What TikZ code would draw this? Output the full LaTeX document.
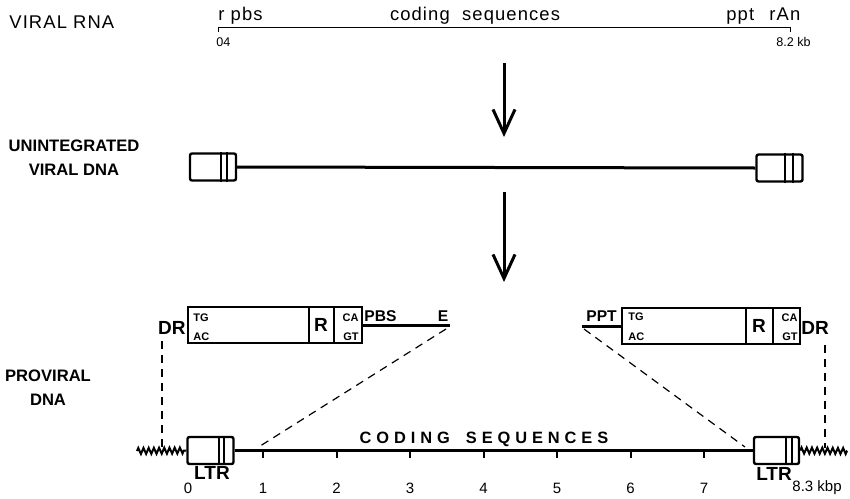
\documentclass[tikz,border=0pt]{standalone}
\usepackage{fontspec}
\setmainfont{Liberation Sans}
\newfontfamily\wideface[LetterSpace=30]{Liberation Sans}
\newfontfamily\airyface[LetterSpace=6]{Liberation Sans}
\usetikzlibrary{arrows.meta,calc,decorations.pathmorphing}
\tikzset{
  rv/.style={x=0.5pt, y=-0.5pt},
  r lab/.style={font=\fontsize{8.3}{12}\selectfont\bfseries, align=center, inner sep=0pt},
  r thin/.style={font=\fontsize{9.2}{10}\selectfont\airyface, inner sep=0pt},
  r small/.style={font=\fontsize{6.3}{7}\selectfont, inner sep=0pt},
  r num/.style={font=\fontsize{7.5}{8}\selectfont, inner sep=0pt},
  r tiny/.style={font=\fontsize{5.5}{6}\selectfont\bfseries, inner sep=0pt},
  r mid/.style={font=\fontsize{7.8}{9}\selectfont\bfseries, inner sep=0pt},
  r big lab/.style={font=\fontsize{9.5}{10}\selectfont\bfseries, inner sep=0pt},
  r ltr/.style={draw, line width=1.2pt, rounded corners=1pt, minimum width=23pt, minimum height=13.5pt, inner sep=0pt},
  r big/.style={draw, line width=1pt, minimum height=18pt, inner sep=0pt},
  r bar/.style={line width=1pt},
  r dna/.style={line width=1.5pt},
  r rna/.style={line width=0.5pt},
  r arr/.style={line width=1.5pt, -{Straight Barb[length=12pt, width=11pt]}},
  r dash/.style={line width=0.6pt, dash pattern=on 4pt off 3pt},
  r host/.style={line width=1pt, decorate, decoration={zigzag, segment length=2.6pt, amplitude=1.5pt}},
}
% two cuts across an LTR box, given as fractions of its width
\newcommand{\ltrcuts}[3]{%
  \draw[r bar] ($(#1.north west)!#2!(#1.north east)$) -- ($(#1.south west)!#2!(#1.south east)$);
  \draw[r bar] ($(#1.north west)!#3!(#1.north east)$) -- ($(#1.south west)!#3!(#1.south east)$);}

\begin{document}
\begin{tikzpicture}[rv]
\useasboundingbox (0,0) rectangle (850,498);
% ---- viral RNA ----
\node[r thin, anchor=base west] (rnalab) at (9,28) {VIRAL RNA};
\coordinate (rna0) at (218,27); \coordinate (rna1) at (790,27);
\draw[r rna] ($(rna0)+(0,5)$) -- (rna0) -- (rna1) -- ($(rna1)+(0,5)$);
\node[r thin, anchor=base west] (rpbs) at (218,20) {r pbs};
\node[r thin, anchor=base] (rcod) at (475,20) {coding\ \ sequences};
\node[r thin, anchor=base west] (rppt) at (726,20) {ppt};
\node[r thin, anchor=base west] (rran) at (769,20) {rAn};
\node[r small, anchor=base west] (rn0) at (216,46) {04};
\node[r small, anchor=base west] (rn1) at (776,46) {8.2 kb};
% ---- arrows ----
\coordinate (a1s) at (504,63);  \coordinate (a1e) at (504,137);
\coordinate (a2s) at (504,192); \coordinate (a2e) at (504,282);
\draw[r arr] (a1s) -- (a1e);
\draw[r arr] (a2s) -- (a2e);
% ---- unintegrated viral DNA ----
\node[r lab] (unlab) at (74,158) {UNINTEGRATED\\VIRAL DNA};
\node[r ltr] (ul) at (213,167) {};   \ltrcuts{ul}{0.67}{0.79}
\node[r ltr] (ur) at (779.5,168) {}; \ltrcuts{ur}{0.62}{0.77}
\draw[r dna] (ul.east) -- (ur.west);
% ---- proviral DNA, expanded LTRs ----
\node[r lab] (prolab) at (48,388) {PROVIRAL\\DNA};
\node[r big, minimum width=87pt] (lbig) at (275,325) {}; \ltrcuts{lbig}{0.695}{0.833}
\node[r tiny, anchor=west] (ltg) at (193,318) {TG};
\node[r tiny, anchor=west] (lac) at (193,337) {AC};
\node[r big lab] (lr) at (321,325) {R};
\node[r tiny, anchor=east] (lca) at (359,318) {CA};
\node[r tiny, anchor=east] (lgt) at (359,337) {GT};
\node[r big lab, anchor=east] (ldr) at (186,328) {DR};
\coordinate (pbsend) at (450,325);
\draw[r dna] (lbig.east) -- (pbsend);
\node[r mid, anchor=west] (lpbs) at (364,316) {PBS};
\node[r mid] (le) at (443,316) {E};
\node[r big, minimum width=89pt] (rbig) at (711,326) {}; \ltrcuts{rbig}{0.697}{0.843}
\node[r tiny, anchor=west] (rtg) at (628,317) {TG};
\node[r tiny, anchor=west] (rac) at (628,337) {AC};
\node[r big lab] (rr) at (759,326) {R};
\node[r tiny, anchor=east] (rca) at (798,318) {CA};
\node[r tiny, anchor=east] (rgt) at (798,337) {GT};
\node[r big lab, anchor=west] (rdr) at (801,328) {DR};
\coordinate (pptend) at (582,326);
\draw[r dna] (pptend) -- (rbig.west);
\node[r mid, anchor=west] (rppt2) at (586,316) {PPT};
% ---- proviral DNA, integrated ----
\node[r ltr] (bl) at (210.5,450.5) {};                   \ltrcuts{bl}{0.667}{0.78}
\node[r ltr, minimum width=22.5pt] (br) at (776.5,450.5) {}; \ltrcuts{br}{0.69}{0.82}
\draw[r dna] (bl.east) -- (br.west);
\coordinate (hl) at (137,451); \coordinate (hr) at (847,451);
\draw[r host] (hl) -- (bl.west); \draw[r host] (br.east) -- (hr);
\foreach \k in {1,...,7} {
  \draw[r bar] (189.5+73.5*\k,450) -- ++(0,8);
  \node[r num] (n\k) at (189.5+73.5*\k,488) {\k};
}
\node[r num] (n0) at (188,488) {0};
\node[r num, anchor=west] (nend) at (792,488) {8.3 kbp};
\node[r big lab] (bltr) at (212,473) {LTR};
\node[r big lab] (brltr) at (774,474) {LTR};
\node[r mid, font=\fontsize{8.2}{9}\selectfont\wideface\bfseries] (cod) at (484,439) {CODING\hspace{8pt}SEQUENCES};
% ---- dashed guides ----
\coordinate (lcut) at (446,329); \coordinate (lfoot) at (257,448);
\coordinate (rcut) at (584,329); \coordinate (rfoot) at (745,447);
\draw[r dash] (lcut) -- (lfoot);
\draw[r dash] (rcut) -- (rfoot);
\coordinate (lv0) at (162,341); \coordinate (lv1) at (162,448);
\coordinate (rv0) at (825,345); \coordinate (rv1) at (825,448);
\draw[r dash] (lv0) -- (lv1);
\draw[r dash] (rv0) -- (rv1);
\end{tikzpicture}
\end{document}
